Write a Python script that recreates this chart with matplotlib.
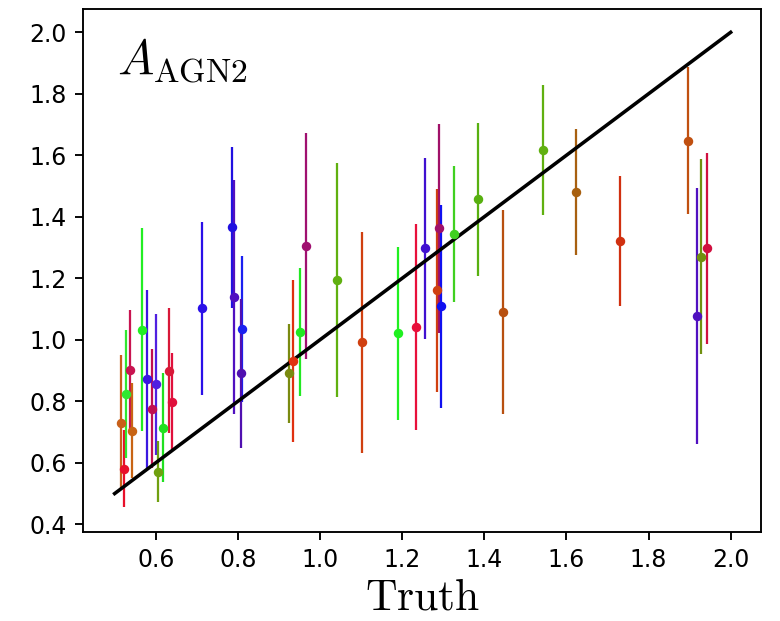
import matplotlib
matplotlib.use("Agg")
import matplotlib.pyplot as plt
import numpy as np

plt.rcParams['mathtext.fontset'] = 'cm'

truth = [0.516, 0.5235, 0.527, 0.538, 0.542, 0.566, 0.578, 0.591, 0.6015, 0.605,
         0.6185, 0.632, 0.640, 0.712, 0.785, 0.791, 0.811, 0.807, 0.9245, 0.9335,
         0.952, 0.967, 1.042, 1.103, 1.1907, 1.2345, 1.255, 1.2856, 1.289, 1.2946,
         1.3256, 1.384, 1.4445, 1.5423, 1.624, 1.7305, 1.8968, 1.918, 1.9285, 1.9425]
pred = [0.729, 0.580, 0.824, 0.902, 0.703, 1.033, 0.872, 0.776, 0.855, 0.571,
        0.714, 0.899, 0.798, 1.102, 1.366, 1.140, 1.035, 0.891, 0.891, 0.931,
        1.026, 1.306, 1.1935, 0.993, 1.022, 1.042, 1.2985, 1.161, 1.3626, 1.109,
        1.344, 1.457, 1.089, 1.616, 1.481, 1.322, 1.6475, 1.077, 1.270, 1.2985]
pred_lo = [0.512, 0.455, 0.615, 0.707, 0.550, 0.704, 0.582, 0.582, 0.625, 0.472,
           0.537, 0.696, 0.644, 0.8205, 1.104, 0.759, 0.799, 0.649, 0.730, 0.667,
           0.818, 0.937, 0.813, 0.633, 0.739, 0.706, 1.0036, 0.830, 1.021, 0.779,
           1.122, 1.2085, 0.758, 1.405, 1.277, 1.111, 1.409, 0.660, 0.954, 0.987]
pred_hi = [0.952, 0.707, 1.031, 1.097, 0.859, 1.363, 1.162, 0.969, 1.084, 0.672,
           0.891, 1.102, 0.956, 1.384, 1.626, 1.520, 1.2725, 1.133, 1.051, 1.1945,
           1.2345, 1.6735, 1.574, 1.3515, 1.303, 1.3756, 1.592, 1.4914, 1.702, 1.4374,
           1.564, 1.706, 1.422, 1.828, 1.685, 1.533, 1.886, 1.495, 1.587, 1.6075]
colors = ['#c8601a', '#e8102a', '#30e830', '#c81450', '#c86414', '#22ee22', '#3a18e0',
          '#c01050', '#5020e0', '#70a010', '#20e020', '#d81838', '#e0103c', '#2a10e8',
          '#2010e0', '#5010c0', '#1a20f0', '#5010b0', '#7a8a10', '#e03010', '#22e822',
          '#a01070', '#60b010', '#d04010', '#20f020', '#e8103a', '#4010d0', '#d04010',
          '#a01068', '#1010f0', '#40d020', '#58b010', '#b85010', '#60b010', '#a86010',
          '#d03010', '#c05010', '#5010c0', '#709010', '#d01040']
line_x = [0.5, 2.0]
line_y = [0.5, 2.0]
xticks = [0.6, 0.8, 1.0, 1.2, 1.4, 1.6, 1.8, 2.0]
yticks = [0.4, 0.6, 0.8, 1.0, 1.2, 1.4, 1.6, 1.8, 2.0]

dpi = 170
fig = plt.figure(figsize=(780 / dpi, 621 / dpi), dpi=dpi)
ax = fig.add_axes([0.1068, 0.1438, 0.9756 - 0.1068, 0.985 - 0.1438])

for xi, yi, lo, hi, c in zip(truth, pred, pred_lo, pred_hi, colors):
    ax.errorbar([xi], [yi], yerr=[[yi - lo], [hi - yi]], fmt='o', color=c,
                ms=3.0, elinewidth=0.95, capsize=0)

ax.plot(line_x, line_y, color='black', lw=1.5)

ax.set_xlim(0.4237, 2.0738)
ax.set_ylim(0.376, 2.0748)
ax.set_xticks(xticks)
ax.set_yticks(yticks)
ax.set_xticklabels([f"{t:.1f}" for t in xticks])
ax.set_yticklabels([f"{t:.1f}" for t in yticks])
ax.set_xlabel(r'$\mathrm{Truth}$', fontsize=18.5, labelpad=1.5)
ax.text(0.05, 0.877, r'$A_{\rm AGN2}$', transform=ax.transAxes, fontsize=20.5,
        ha='left', va='baseline')

fig.savefig('out.png', dpi=dpi)
